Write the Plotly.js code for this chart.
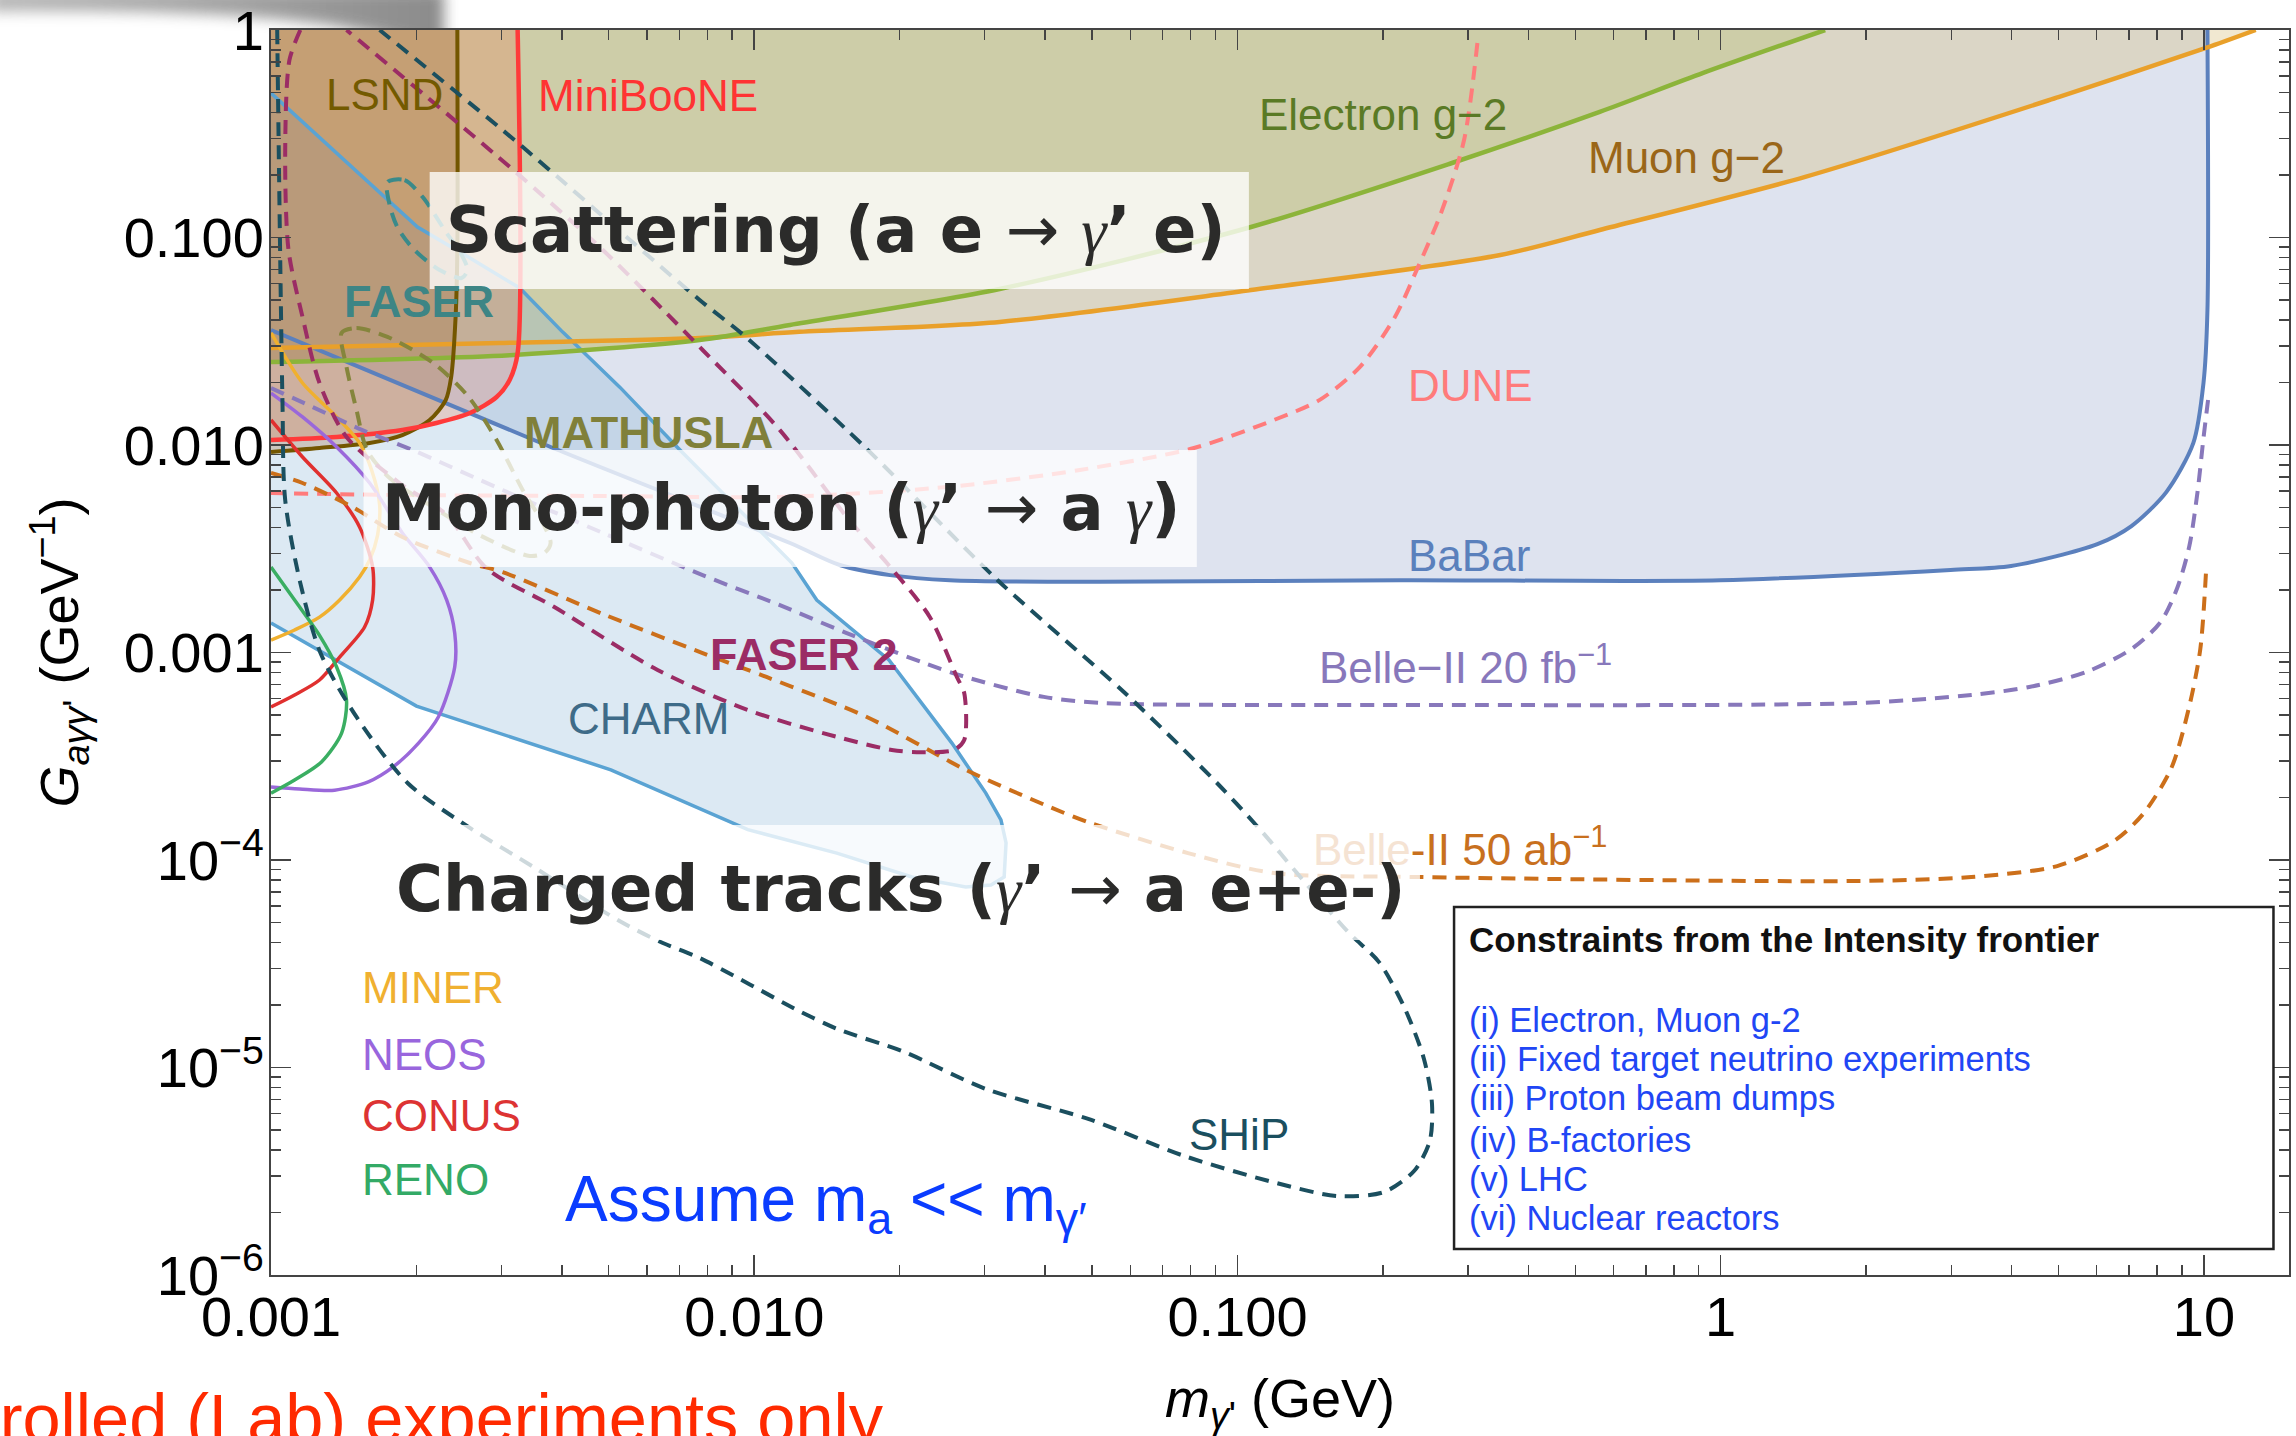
<!DOCTYPE html>
<html>
<head>
<meta charset="utf-8">
<script src="https://cdn.plot.ly/plotly-3.0.1.min.js"></script>
<style>html,body{margin:0;padding:0;background:#fff}#chart{width:2296px;height:1436px}</style>
</head>
<body>
<div id="chart"></div>
<script>
// Limits and projections on the axion / dark-photon coupling G_aγγ' (GeV^-1)
// versus the dark-photon mass m_γ' (GeV).

// ---- excluded regions (solid boundaries) ----
const babarM = [0.001, 0.00379, 0.01186, 0.01503, 0.0191, 0.0254, 0.0519, 0.217, 0.998, 2.99, 3.99, 6.02, 7.08, 8.36, 9.51, 9.98, 10.17, 10.17];
const babarG = [0.0358, 0.00978, 0.00337, 0.00264, 0.00236, 0.00223, 0.00219, 0.00223, 0.00223, 0.00250, 0.00261, 0.00333, 0.00407, 0.00593, 0.01023, 0.0199, 0.0447, 1];

const muonM = [0.001, 0.00297, 0.00771, 0.0124, 0.0322, 0.1067, 0.350, 0.562, 1.496, 5.0, 10.1, 12.8];
const muonG = [0.0293, 0.0310, 0.0328, 0.0351, 0.0392, 0.0558, 0.0824, 0.1087, 0.196, 0.475, 0.819, 1.0];

const electronM = [0.001, 0.00312, 0.00771, 0.01186, 0.0322, 0.1067, 0.278, 0.562, 0.920, 1.645];
const electronG = [0.0251, 0.0271, 0.0321, 0.0379, 0.0565, 0.1124, 0.2286, 0.403, 0.621, 1.0];

const charmM = [0.001, 0.00201, 0.00258, 0.00327, 0.00401, 0.00527, 0.00702, 0.01197, 0.01347, 0.0190, 0.02565, 0.03015, 0.0324, 0.0332, 0.0329, 0.0309, 0.0274, 0.0212, 0.01482, 0.0097, 0.00505, 0.0020, 0.001];
const charmG = [0.497, 0.1124, 0.0797, 0.0571, 0.0351, 0.0190, 0.00946, 0.0027, 0.00179, 0.00092, 0.000366, 0.00021, 0.000156, 0.000121, 8.28e-5, 7.58e-5, 7.41e-5, 8.28e-5, 1.08e-4, 1.40e-4, 2.72e-4, 5.52e-4, 0.001387];

const lsndM = [0.00243, 0.00243, 0.00241, 0.00236, 0.00230, 0.00213, 0.00187, 0.00160, 0.00126, 0.001];
const lsndG = [1, 0.0871, 0.0414, 0.0213, 0.0165, 0.0132, 0.01117, 0.01023, 0.00967, 0.00925];

const minibooneM = [0.003239, 0.003239, 0.003118, 0.00293, 0.00258, 0.00220, 0.00187, 0.001368, 0.001];
const minibooneG = [1, 0.0277, 0.02057, 0.01703, 0.01426, 0.01276, 0.0118, 0.01093, 0.01057];

// ---- reactor experiments ----
const minerM = [0.001, 0.001162, 0.001367, 0.001525, 0.001615, 0.001678, 0.001662, 0.0016, 0.001525, 0.001387, 0.00126, 0.001119, 0.001];
const minerG = [0.0347, 0.0199, 0.01365, 0.01023, 0.00758, 0.00514, 0.00368, 0.00279, 0.00231, 0.00179, 0.00148, 0.001284, 0.001148];
const neosM = [0.001, 0.001162, 0.001367, 0.0016, 0.00187, 0.00213, 0.00231, 0.0024, 0.0024, 0.00222, 0.00202, 0.00179, 0.00159, 0.001354, 0.001146, 0.001];
const neosG = [0.0178, 0.01365, 0.00978, 0.00656, 0.00377, 0.00258, 0.00179, 0.00124, 0.000851, 0.000489, 0.000366, 0.000281, 0.000238, 0.000217, 0.00022, 0.000225];
const conusM = [0.001, 0.001162, 0.001367, 0.001525, 0.001623, 0.001623, 0.001562, 0.001387, 0.00126, 0.001119, 0.001];
const conusG = [0.0132, 0.00875, 0.00587, 0.00403, 0.00258, 0.00179, 0.001327, 0.000951, 0.000737, 0.000624, 0.000546];
const renoM = [0.001, 0.001119, 0.00126, 0.001367, 0.001433, 0.0014, 0.001272, 0.001119, 0.001];
const renoG = [0.00258, 0.00179, 0.00121, 0.000851, 0.00059, 0.000409, 0.000297, 0.000243, 0.00021];

// ---- future sensitivities (dashed) ----
const shipM = [0.00103, 0.001056, 0.00107, 0.00115, 0.001266, 0.001503, 0.001917, 0.002566, 0.003495, 0.005218, 0.00647, 0.00771, 0.0124, 0.0149, 0.0204, 0.0302, 0.0491, 0.0778, 0.1208, 0.1614, 0.201, 0.232, 0.250, 0.2527, 0.2432, 0.2212, 0.1963, 0.1694, 0.1328, 0.1130, 0.0907, 0.0585, 0.0319, 0.01702, 0.0096, 0.00771, 0.00319, 0.001678];
const shipG = [1, 0.01648, 0.00543, 0.00216, 0.000995, 0.000489, 0.000235, 0.000144, 9.25e-5, 5.14e-5, 3.98e-5, 3.37e-5, 1.87e-5, 1.53e-5, 1.19e-5, 7.87e-6, 5.65e-6, 3.74e-6, 2.77e-6, 2.40e-6, 2.51e-6, 3.17e-6, 4.42e-6, 6.67e-6, 1.10e-5, 1.96e-5, 3.22e-5, 4.50e-5, 8.65e-5, 1.35e-4, 2.35e-4, 6.38e-4, 0.00223, 0.00967, 0.0332, 0.0500, 0.295, 1];

const faser2M = [0.00115, 0.001092, 0.00107, 0.001087, 0.001162, 0.00126, 0.001433, 0.001845, 0.00231, 0.00279, 0.00385, 0.00631, 0.0097, 0.01483, 0.01926, 0.0217, 0.0259, 0.0272, 0.0272, 0.02626, 0.0231, 0.01935, 0.01554, 0.0113, 0.00782, 0.00486, 0.00312, 0.001433];
const faser2G = [1, 0.717, 0.264, 0.0871, 0.0414, 0.0199, 0.01093, 0.00656, 0.0046, 0.00255, 0.00166, 0.000824, 0.000528, 0.000392, 0.000339, 0.000331, 0.000339, 0.000379, 0.000638, 0.000762, 0.00148, 0.0025, 0.0045, 0.0118, 0.0287, 0.0871, 0.2187, 1];

const mathuslaM = [0.0014, 0.001503, 0.001742, 0.002169, 0.002566, 0.00293, 0.003317, 0.00365, 0.00379, 0.00368, 0.00343, 0.0027, 0.00213, 0.00176, 0.00158, 0.001503, 0.001433, 0.0014];
const mathuslaG = [0.0347, 0.0366, 0.0332, 0.0248, 0.017, 0.01057, 0.00607, 0.00421, 0.00337, 0.00302, 0.00292, 0.00368, 0.00514, 0.00693, 0.00946, 0.01475, 0.0238, 0.0347];

const faserM = [0.001742, 0.00189, 0.00206, 0.002286, 0.00248, 0.00255, 0.00248, 0.002234, 0.00198, 0.00183, 0.00176, 0.001742];
const faserG = [0.185, 0.189, 0.1567, 0.1087, 0.0824, 0.0697, 0.0638, 0.0697, 0.0871, 0.111, 0.1435, 0.185];

const duneM = [0.001, 0.001845, 0.00479, 0.0113, 0.025, 0.0472, 0.0813, 0.119, 0.148, 0.1793, 0.2118, 0.2364, 0.2638, 0.2944, 0.3147];
const duneG = [0.00587, 0.00574, 0.00568, 0.00562, 0.00627, 0.00758, 0.00967, 0.0132, 0.0165, 0.0238, 0.0414, 0.0721, 0.1313, 0.295, 0.925];

const belle20M = [0.001, 0.001219, 0.001546, 0.001963, 0.003015, 0.00486, 0.00782, 0.0113, 0.01554, 0.02576, 0.03975, 0.0524, 0.217, 1.917, 3.30, 4.35, 5.71, 7.08, 8.13, 8.81, 9.33, 9.70, 9.98, 10.2];
const belle20G = [0.01883, 0.01524, 0.0118, 0.00946, 0.00607, 0.00377, 0.00236, 0.00169, 0.00124, 0.000796, 0.000611, 0.000571, 0.000559, 0.000571, 0.000624, 0.000682, 0.000806, 0.00104, 0.0014, 0.00205, 0.00326, 0.00594, 0.01081, 0.01648];

const belle50M = [0.001, 0.001162, 0.001475, 0.00187, 0.00258, 0.003015, 0.00486, 0.00782, 0.0106, 0.0171, 0.0274, 0.0409, 0.0495, 0.079, 0.119, 0.2364, 1.917, 3.30, 4.97, 6.53, 7.49, 8.56, 9.33, 9.83, 10.1];
const belle50G = [0.00733, 0.00656, 0.00502, 0.0036, 0.0027, 0.00244, 0.001533, 0.000994, 0.000762, 0.000489, 0.000272, 0.00018, 0.000151, 0.000108, 8.65e-5, 8.28e-5, 7.92e-5, 8.28e-5, 9.35e-5, 1.24e-4, 1.67e-4, 2.77e-4, 5.52e-4, 0.00104, 0.00244];

// ---- axes ----
const xTickVals = [0.001, 0.01, 0.1, 1, 10];
const xTickText = ['0.001', '0.010', '0.100', '1', '10'];
const yTickVals = [1e-6, 1e-5, 1e-4, 0.001, 0.01, 0.1, 1];
const yTickText = ['10<sup>−6</sup>', '10<sup>−5</sup>', '10<sup>−4</sup>', '0.001', '0.010', '0.100', '1'];
const X_MIN = 0.001, X_MAX = 15, Y_MIN = 1e-6, Y_MAX = 1;

const LX = [Math.log10(X_MIN), Math.log10(X_MAX)];
const LY = [Math.log10(Y_MIN), Math.log10(Y_MAX)];
const fx = m => (Math.log10(m) - LX[0]) / (LX[1] - LX[0]);
const fy = g => (Math.log10(g) - LY[0]) / (LY[1] - LY[0]);

const minorX = [], minorY = [];
for (let k = -3; k <= 1; k++) for (let d = 2; d <= 9; d++) { const v = d * Math.pow(10, k); if (v < X_MAX) minorX.push(v); }
for (let k = -6; k <= -1; k++) for (let d = 2; d <= 9; d++) minorY.push(d * Math.pow(10, k));

const SANS = 'Liberation Sans';
const DASH = '14px,9px';

function fillArea(m, g, color) {
  return { x: m, y: g, type: 'scatter', mode: 'lines', fill: 'toself', fillcolor: color,
           line: { width: 0 }, hoverinfo: 'skip', showlegend: false };
}
function curve(m, g, color, width, dash, shape) {
  return { x: m, y: g, type: 'scatter', mode: 'lines',
           line: { color: color, width: width, dash: dash || 'solid', shape: shape || 'spline', smoothing: 0.8 },
           hoverinfo: 'skip', showlegend: false };
}

const traces = [
  // filled regions, back to front
  fillArea(babarM.concat([X_MIN]), babarG.concat([Y_MAX]), '#dee3ef'),
  fillArea(muonM.concat([X_MIN]), muonG.concat([Y_MAX]), 'rgba(216,190,122,0.35)'),
  fillArea(electronM.concat([X_MIN]), electronG.concat([Y_MAX]), '#cdcda8'),
  fillArea(charmM, charmG, 'rgba(130,176,212,0.28)'),
  fillArea(minibooneM.concat([X_MIN]), minibooneG.concat([Y_MAX]), 'rgba(240,100,60,0.22)'),
  fillArea(lsndM.concat([X_MIN]), lsndG.concat([Y_MAX]), 'rgba(150,90,30,0.25)'),
  // boundaries
  curve(babarM, babarG, '#5b80bd', 4),
  curve(charmM, charmG, '#5aa3d3', 3.5, 'solid', 'linear'),
  curve(muonM, muonG, '#e9a02a', 4.5),
  curve(electronM, electronG, '#8cb43a', 4.5),
  curve(lsndM, lsndG, '#735600', 4),
  curve(minibooneM, minibooneG, '#ff3a3a', 4.5),
  curve(minerM, minerG, '#f0b02f', 3.5),
  curve(neosM, neosG, '#9a68da', 3.5),
  curve(conusM, conusG, '#e0302f', 3.5),
  curve(renoM, renoG, '#3aae62', 3.5),
  // projections
  curve(duneM, duneG, '#ff7b7b', 4, DASH),
  curve(belle20M, belle20G, '#8878bb', 4, DASH),
  curve(belle50M, belle50G, '#cc6f1a', 4, DASH),
  curve(mathuslaM, mathuslaG, '#85853c', 4, DASH),
  curve(faserM, faserG, '#3a8a8a', 4, DASH),
  curve(faser2M, faser2G, '#9b2c65', 4, DASH),
  curve(shipM, shipG, '#1b4f5f', 4, DASH),
  // carrier for the minor-tick axes
  { x: [], y: [], xaxis: 'x2', yaxis: 'y2', type: 'scatter', mode: 'lines', hoverinfo: 'skip', showlegend: false }
];

function label(text, m, g, color, size, bold, anchor) {
  return { xref: 'paper', yref: 'paper', x: fx(m), y: fy(g), xanchor: anchor || 'left', yanchor: 'middle',
           showarrow: false, text: bold ? '<b>' + text + '</b>' : text,
           font: { family: SANS, size: size || 44, color: color } };
}
const GAMMA = '<span style="font-family:\'Liberation Serif\';font-style:italic;font-weight:normal">γ</span>';
const ARROW = '<span style="font-weight:normal">→</span>';
function banner(text, m, g) {
  return { xref: 'paper', yref: 'paper', x: fx(m), y: fy(g), xanchor: 'left', yanchor: 'middle', showarrow: false,
           text: '<b>' + text + '</b>', font: { family: 'DejaVu Sans', size: 64, color: '#2b2b2a' } };
}
function panel(m0, m1, g0, g1, fill, line) {
  return { type: 'rect', xref: 'paper', yref: 'paper', x0: fx(m0), x1: fx(m1), y0: fy(g0), y1: fy(g1),
           fillcolor: fill, line: line || { width: 0 }, layer: 'above' };
}

const legendItems = [
  ['(i) Electron, Muon g-2', 1.694e-5],
  ['(ii) Fixed target neutrino experiments', 1.10e-5],
  ['(iii) Proton beam dumps', 7.09e-6],
  ['(iv) B-factories', 4.49e-6],
  ['(v) LHC', 2.90e-6],
  ['(vi) Nuclear reactors', 1.88e-6]
];

const annotations = [
  label('LSND', 0.001285, 0.4915, '#735a00'),
  label('MiniBooNE', 0.003529, 0.486, '#ff3333'),
  label('Electron g−2', 0.1098, 0.3895, '#5a7a25'),
  label('Muon g−2', 0.5265, 0.2443, '#9a6618'),
  label('DUNE', 0.2233, 0.01946, '#ff7b7b'),
  label('BaBar', 0.2233, 0.00295, '#5a80bc'),
  label('Belle−II 20 fb<sup>−1</sup>', 0.1461, 0.000871, '#8878bb'),
  label('<span style="color:#f5e3d3">Belle</span>-II 50 ab<sup>−1</sup>', 0.142, 0.0001156, '#c8701e'),
  label('FASER', 0.0014, 0.0489, '#3d8585', 45, true),
  label('MATHUSLA', 0.0033, 0.01155, '#80803a', 45, true),
  label('FASER 2', 0.00801, 0.000973, '#9b2c65', 45, true),
  label('CHARM', 0.00407, 0.000483, '#3e6b88'),
  label('SHiP', 0.0786, 4.78e-6, '#1b4f5f'),
  label('MINER', 0.001525, 2.42e-5, '#f0b030'),
  label('NEOS', 0.001525, 1.16e-5, '#9966dd'),
  label('CONUS', 0.001525, 5.90e-6, '#dd3333'),
  label('RENO', 0.001525, 2.90e-6, '#33aa66'),
  banner('Scattering (a e ' + ARROW + ' ' + GAMMA + '’ e)', 0.002276, 0.1087),
  banner('Mono-photon (' + GAMMA + '’ ' + ARROW + ' a ' + GAMMA + ')', 0.001678, 0.00497),
  banner('Charged tracks (' + GAMMA + '’ ' + ARROW + ' a e+e-)', 0.0018, 7.25e-5),
  label('<b>Constraints from the Intensity frontier</b>', 0.2987, 4.12e-5, '#111111', 35),
  ...legendItems.map(([t, g]) => label(t, 0.2987, g, '#2146f5', 34.5)),
  label('Assume m<sub>a</sub> &lt;&lt; m<sub>γ′</sub>', 0.00403, 2.22e-6, '#0a3cff', 64),
  { xref: 'paper', yref: 'paper', x: fx(0.0187), y: fy(3.2e-7), xanchor: 'right', yanchor: 'top', showarrow: false,
    text: 'Controlled (Lab) experiments only', font: { family: SANS, size: 68.5, color: '#ff2a00' } }
];

const shapes = [
  panel(0.00213, 0.1056, 0.0565, 0.2068, 'rgba(255,255,255,0.78)'),
  panel(0.001554, 0.0824, 0.00258, 0.00946, 'rgba(255,255,255,0.78)'),
  panel(0.001678, 0.2386, 4.12e-5, 0.0001475, 'rgba(255,255,255,0.78)'),
  panel(0.2807, 13.93, 1.334e-6, 5.94e-5, '#ffffff', { color: '#222222', width: 2.5 })
];

// soft grey shadow across the upper-left corner of the page
const cornerShade = '<svg xmlns="http://www.w3.org/2000/svg" width="480" height="80" viewBox="0 0 480 80">' +
  '<defs><linearGradient id="s" x1="0" x2="1" y1="0" y2="0"><stop offset="0" stop-color="#9a9a9a"/><stop offset="0.55" stop-color="#7a7a7a"/><stop offset="1" stop-color="#5a5a5a"/></linearGradient>' +
  '<filter id="b" x="-20%" y="-80%" width="140%" height="260%"><feGaussianBlur stdDeviation="7"/></filter></defs>' +
  '<path d="M-10,-10 L444,-10 L444,48 C420,44 380,34 330,25 C260,15 150,10 -10,12 Z" fill="url(#s)" opacity="0.7" filter="url(#b)"/>' +
  '</svg>';

const W = 2296, H = 1436, ML = 271, MR = 7, MT = 30, MB = 161;
const plotW = W - ML - MR, plotH = H - MT - MB;

const axisCommon = { type: 'log', showgrid: false, zeroline: false, showline: true, linecolor: '#444', linewidth: 2,
                     mirror: 'ticks', ticks: 'inside', ticklen: 20, tickwidth: 1.6, tickcolor: '#444',
                     ticklabeloverflow: 'allow',
                     tickfont: { family: SANS, size: 56, color: '#000' } };

const layout = {
  width: W, height: H,
  margin: { l: ML, r: MR, t: MT, b: MB, pad: 0 },
  paper_bgcolor: '#ffffff', plot_bgcolor: 'rgba(255,255,255,0)',
  font: { family: SANS, color: '#000' },
  showlegend: false, hovermode: false,
  xaxis: Object.assign({}, axisCommon, {
    range: LX, tickmode: 'array', tickvals: xTickVals, ticktext: xTickText, ticklabelstandoff: -8,
    title: { text: '<i>m</i><sub><i>γ</i>\'</sub> (GeV)', font: { family: SANS, size: 54, color: '#000' }, standoff: 48 }
  }),
  yaxis: Object.assign({}, axisCommon, {
    range: LY, tickmode: 'array', tickvals: yTickVals, ticktext: yTickText, ticklabelstandoff: -6,
    title: { text: '<i>G</i><sub><i>aγγ</i>\'</sub> (GeV<sup>−1</sup>)', font: { family: SANS, size: 54, color: '#000' }, standoff: 28 }
  }),
  xaxis2: { type: 'log', overlaying: 'x', anchor: 'y', range: LX, tickmode: 'array', tickvals: minorX,
            ticks: 'inside', ticklen: 10, tickwidth: 1.4, tickcolor: '#444', mirror: 'ticks', showline: false,
            showticklabels: false, showgrid: false, zeroline: false },
  yaxis2: { type: 'log', overlaying: 'y', anchor: 'x', range: LY, tickmode: 'array', tickvals: minorY,
            ticks: 'inside', ticklen: 10, tickwidth: 1.4, tickcolor: '#444', mirror: 'ticks', showline: false,
            showticklabels: false, showgrid: false, zeroline: false },
  shapes: shapes,
  annotations: annotations,
  images: [{
    source: 'data:image/svg+xml;charset=utf-8,' + encodeURIComponent(cornerShade),
    xref: 'paper', yref: 'paper', x: -ML / plotW, y: 1 + MT / plotH, sizex: 480 / plotW, sizey: 80 / plotH,
    xanchor: 'left', yanchor: 'top', sizing: 'stretch', layer: 'below'
  }]
};

Plotly.newPlot('chart', traces, layout, { staticPlot: true, displayModeBar: false });
</script>
</body>
</html>
